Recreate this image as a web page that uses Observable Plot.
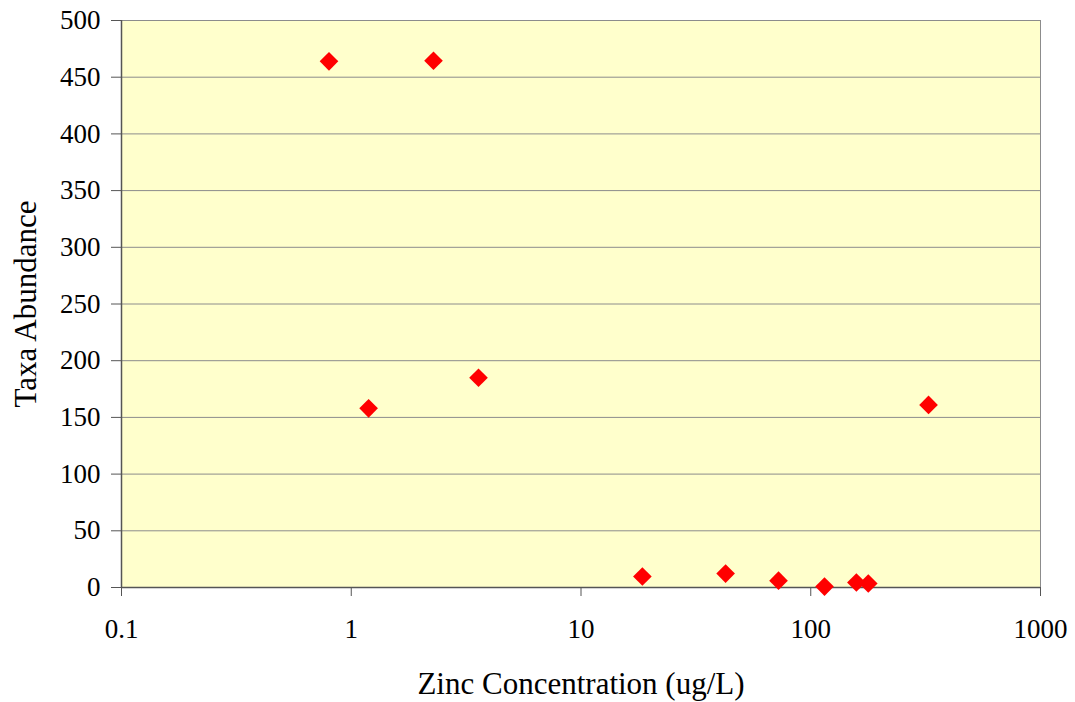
<!DOCTYPE html>
<html><head><meta charset="utf-8">
<script src="https://cdn.jsdelivr.net/npm/d3@7"></script>
<script src="https://cdn.jsdelivr.net/npm/@observablehq/plot@0.6"></script>
<style>body{margin:0;background:#fff}</style>
</head><body><div id="chart"></div>
<script>
const zinc = [0.8, 1.19, 2.28, 3.58, 18.5, 42.6, 72.4, 114.8, 158, 178, 325.6];
const abundance = [464, 158, 464.5, 185, 9.7, 12.3, 6, 0.8, 4.4, 3.5, 161];
const xTicks = [0.1, 1, 10, 100, 1000];
const xTickLabels = ["0.1", "1", "10", "100", "1000"];
const yTicks = [0, 50, 100, 150, 200, 250, 300, 350, 400, 450, 500];

const data = zinc.map((z, i) => ({z, a: abundance[i]}));
const fmtX = (d) => xTickLabels[xTicks.indexOf(d)];

const chart = Plot.plot({
  width: 1075, height: 702,
  marginLeft: 121, marginTop: 20, marginRight: 35, marginBottom: 115,
  style: {fontFamily: "'Liberation Serif', 'Times New Roman', serif", fontSize: "27px", color: "#000", background: "#fff", overflow: "visible"},
  x: {type: "log", domain: [0.1, 1000], ticks: xTicks, tickFormat: fmtX, label: null},
  y: {domain: [0, 500], ticks: yTicks, label: null},
  marks: [
    Plot.frame({fill: "#FFFFCC", stroke: null}),
    Plot.gridY(yTicks, {stroke: "#8c8c8c", strokeOpacity: 1, strokeWidth: 1}),
    Plot.ruleX([1000], {stroke: "#8c8c8c", strokeWidth: 1}),
    Plot.ruleY([500], {stroke: "#8c8c8c", strokeWidth: 1}),
    Plot.ruleX([0.1], {stroke: "#555", strokeWidth: 1.5}),
    Plot.ruleY([0], {stroke: "#555", strokeWidth: 1.5}),
    Plot.axisY({ticks: yTicks, tickSize: 10, tickPadding: 11, stroke: "#555", fontSize: 27, label: null}),
    Plot.axisX({ticks: xTicks, tickFormat: fmtX, tickSize: 9, tickPadding: 22, stroke: "#555", fontSize: 27, label: null}),
    Plot.text(["Zinc Concentration (ug/L)"], {frameAnchor: "bottom", dy: 106, fontSize: 31, fill: "#000"}),
    Plot.text(["Taxa Abundance"], {frameAnchor: "left", dx: -95, rotate: -90, textAnchor: "middle", fontSize: 31, fill: "#000"}),
    Plot.dot(data, {x: "z", y: "a", symbol: "diamond2", r: 8.4, fill: "#ff0000", stroke: "none"})
  ]
});
document.getElementById("chart").appendChild(chart);
</script>
</body></html>
